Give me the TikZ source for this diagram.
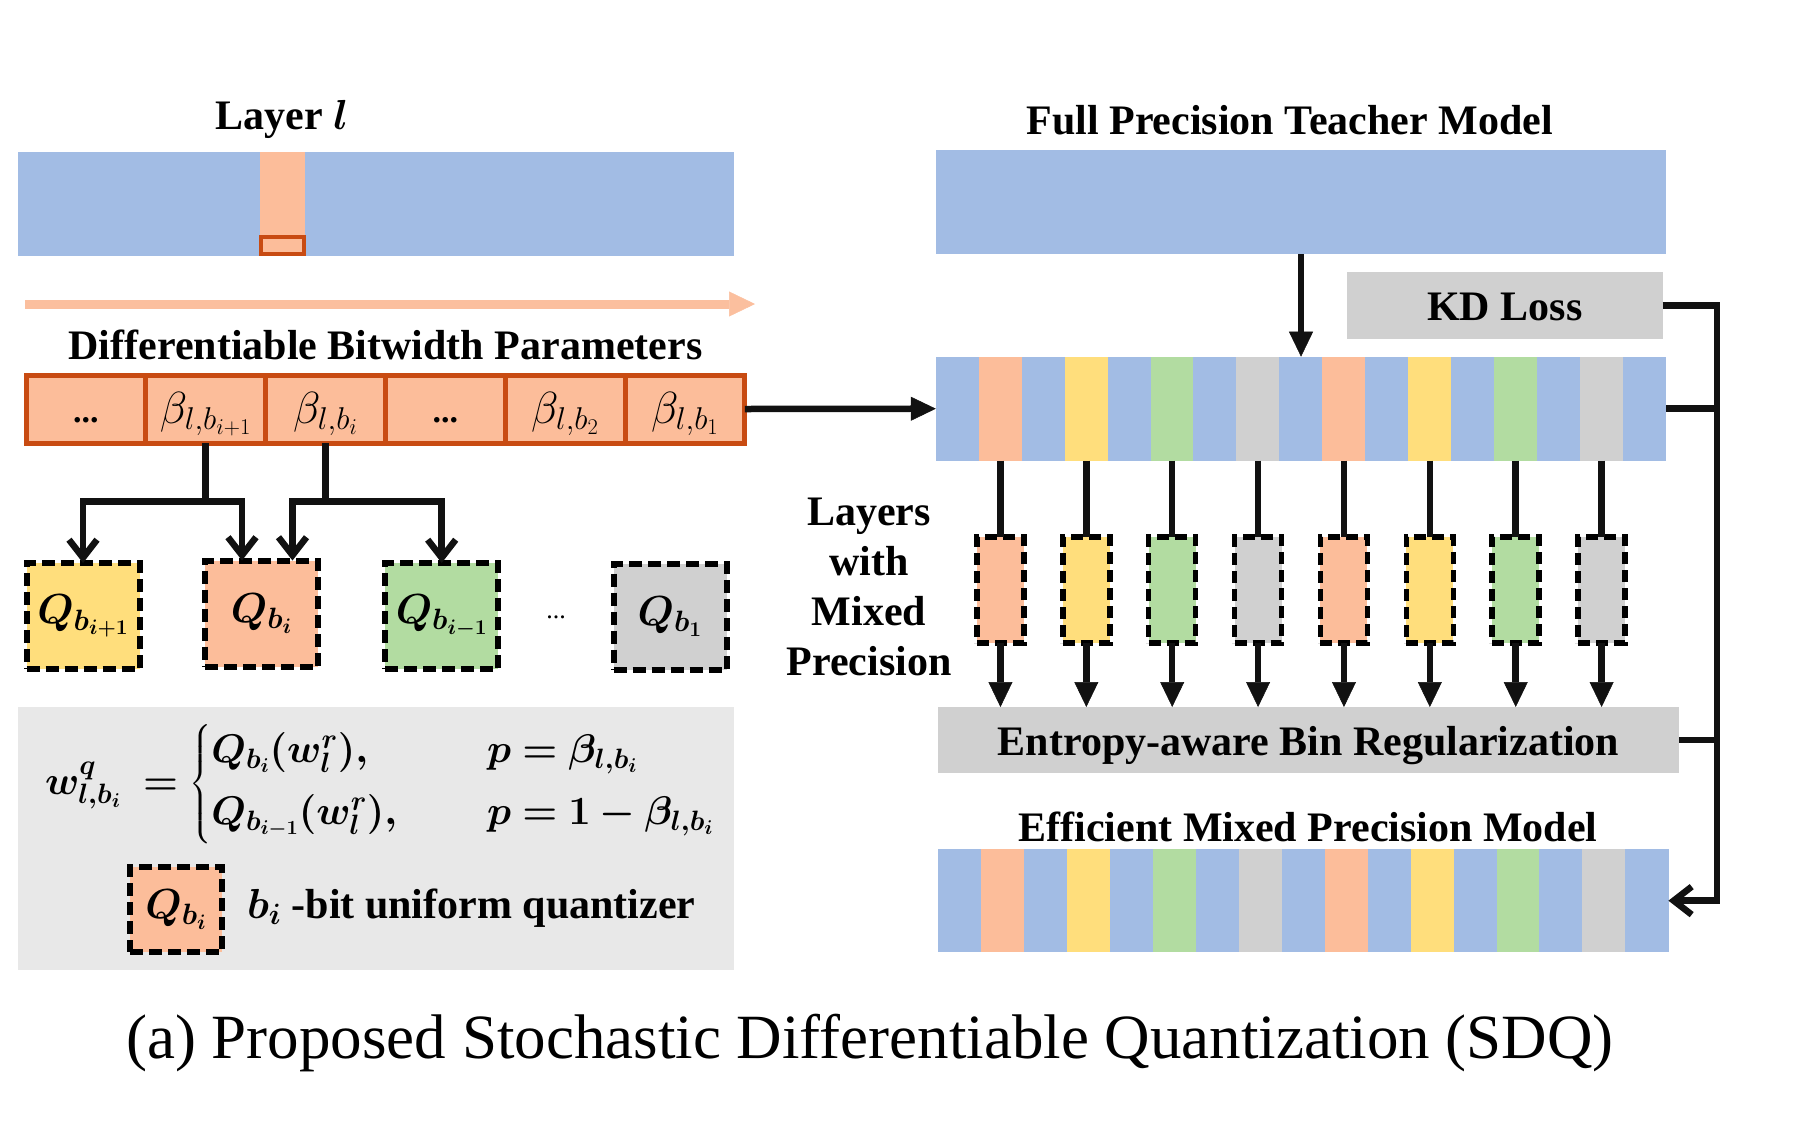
\RequirePackage{fix-cm}
\documentclass[tikz,border=0pt]{standalone}
\usepackage{amsmath}
\usepackage{bm}
\usepackage{fontspec}
\setmainfont{Liberation Serif}
\usetikzlibrary{arrows.meta}
\definecolor{cblue}{HTML}{A2BCE4}
\definecolor{corange}{HTML}{FCBD9A}
\definecolor{cyellow}{HTML}{FFDE7C}
\definecolor{cgreen}{HTML}{B2DCA1}
\definecolor{cgray}{HTML}{D0D0D0}
\definecolor{cbg}{HTML}{E8E8E8}
\definecolor{cborder}{HTML}{C84B12}
\definecolor{carrow}{HTML}{FBBF9E}
\definecolor{cline}{HTML}{111111}
\begin{document}
\begin{tikzpicture}[x=1pt,y=-1pt,
  every node/.style={inner sep=0pt,outer sep=0pt},
  lbl/.style={font=\fontsize{42}{50}\selectfont\bfseries},
  blk/.style={draw=cline,line width=6.5pt},
  barb/.style={-{Straight Barb[length=18pt,width=28pt]}},
  tri/.style={-{Triangle[length=25pt,width=24pt,line width=0.5pt]}},
  band/.style={rectangle,anchor=north west,minimum width=43.4pt,minimum height=#1},
  pcell/.style={rectangle,draw=cborder,fill=corange,line width=5pt,minimum width=119.8pt,minimum height=68pt},
  qbox/.style={rectangle,draw=black,line width=6pt,dash pattern=on 13pt off 6pt,minimum width=113pt,minimum height=106pt,font=\fontsize{42}{50}\selectfont},
  dbox/.style={rectangle,draw=black,line width=5.5pt,dash pattern=on 12pt off 6pt,minimum width=47pt,minimum height=106pt,anchor=north},
  gbox/.style={rectangle,fill=cgray,anchor=north west},
  beta/.style={font=\fontsize{45}{52}\selectfont}
]
\useasboundingbox (0,0) rectangle (1798,1136);

% left: layer l
\node[lbl] (tl) at (282,119) {Layer $\bm{l}$};
\node[rectangle,fill=cblue,anchor=north west,minimum width=716pt,minimum height=103.7pt] (layer) at (18,152) {};
\node[rectangle,fill=corange,anchor=north west,minimum width=45pt,minimum height=103.7pt] (lstripe) at (260,152) {};
\node[rectangle,draw=cborder,line width=4pt,fill=corange,anchor=south,minimum width=43pt,minimum height=17pt] (lsel) at ([yshift=2pt]lstripe.south) {};

\coordinate (oa1) at (25,304);
\coordinate (oa2) at (755,304);
\draw[line width=9pt,draw=carrow,-{Triangle[length=26pt,width=25pt,line width=0.5pt,fill=carrow]}] (oa1) -- (oa2);

\node[lbl] (tdbp) at (385.5,345) {Differentiable Bitwidth Parameters};

% parameter cells
\node[pcell] (p1) at (85.9,409) {};
\node[pcell] (p2) at (205.7,409) {};
\node[pcell] (p3) at (325.5,409) {};
\node[pcell] (p4) at (445.3,409) {};
\node[pcell] (p5) at (565.1,409) {};
\node[pcell] (p6) at (684.9,409) {};
\node[font=\fontsize{34}{40}\selectfont\bfseries] (p1t) at (85.9,420) {...};
\node[beta] (p2t) at (205.7,414) {$\beta_{l,b_{i+1}}$};
\node[beta] (p3t) at (325.5,414) {$\beta_{l,b_{i}}$};
\node[font=\fontsize{34}{40}\selectfont\bfseries] (p4t) at (445.3,420) {...};
\node[beta] (p5t) at (565.1,414) {$\beta_{l,b_{2}}$};
\node[beta] (p6t) at (684.9,414) {$\beta_{l,b_{1}}$};

% quantizer boxes
\node[qbox,fill=cyellow] (qa) at (83,616) {$\bm{Q_{b_{i+1}}}$};
\node[qbox,fill=corange] (qb) at (261.5,613.5) {$\bm{Q_{b_{i}}}$};
\node[qbox,fill=cgreen] (qc) at (441.7,616) {$\bm{Q_{b_{i-1}}}$};
\node[font=\fontsize{26}{30}\selectfont] (qdots) at (556,617) {...};
\node[qbox,fill=cgray] (qd) at (670,616.5) {$\bm{Q_{b_{1}}}$};

% tree connectors
\coordinate (j1) at (205.7,501.7);
\coordinate (j2) at (325.5,501.7);
\draw[blk] (p2.south) -- (j1);
\draw[blk] (p3.south) -- (j2);
\draw[blk,barb] (j1) -| (qa.north);
\draw[blk,barb] (j1) -| ([xshift=-19.5pt]qb.north);
\draw[blk,barb] (j2) -| ([xshift=31pt]qb.north);
\draw[blk,barb] (j2) -| (qc.north);

% formula box
\node[rectangle,fill=cbg,anchor=north west,minimum width=716pt,minimum height=263pt] (fbox) at (18,707) {};
\node[font=\fontsize{40}{48}\selectfont,anchor=west] (form) at (45,784)
 {$\bm{w^{q}_{l,b_i}}\;\bm{=}\left\{\begin{array}{@{}l@{\hspace{90pt}}l@{}}
 \bm{Q_{b_i}(w^{r}_{l}),} & \bm{p=\beta_{l,b_i}}\\[14pt]
 \bm{Q_{b_{i-1}}(w^{r}_{l}),} & \bm{p=1-\beta_{l,b_i}}
 \end{array}\right.$};
\node[qbox,fill=corange,minimum width=92pt,minimum height=85pt] (qleg) at (176,909.5) {$\bm{Q_{b_i}}$};
\node[lbl,anchor=west] (legt) at (247,908) {$\bm{b_i}$ -bit uniform quantizer};

% right
\node[lbl] (tfp) at (1289.6,120) {Full Precision Teacher Model};
\node[rectangle,fill=cblue,anchor=north west,minimum width=730.6pt,minimum height=103.7pt] (teach) at (935.8,150.3) {};
\node[gbox,minimum width=315.6pt,minimum height=66.7pt] (kd) at (1347,272) {};
\node[lbl] (kdt) at ([yshift=-2pt]kd.center) {KD Loss};

% student (mixed) bar
\node[rectangle,anchor=north west,minimum width=730.6pt,minimum height=104pt] (stud) at (935.8,356.7) {};
\foreach \c [count=\i] in {cblue,corange,cblue,cyellow,cblue,cgreen,cblue,cgray,cblue,corange,cblue,cyellow,cblue,cgreen,cblue,cgray,cblue}
  \node[band=104pt,fill=\c] (s\i) at ({935.8+(\i-1)*42.94},356.7) {};

\draw[blk,tri] (teach.south -| s9) -- (s9.north);
\draw[blk,tri] (p6.east) -- (stud.west);

\node[lbl,align=center] (lwm) at (869,586.7) {Layers\\with\\Mixed\\Precision};

\node[gbox,minimum width=741pt,minimum height=66pt] (ent) at (938,707) {};
\node[lbl] (entt) at ([yshift=-6pt]ent.center) {Entropy-aware Bin Regularization};

\coordinate (dtop) at (0,537);
\foreach \c [count=\k] in {corange,cyellow,cgreen,cgray,corange,cyellow,cgreen,cgray}{
  \pgfmathtruncatemacro{\j}{2*\k}
  \node[dbox,fill=\c] (d\k) at (s\j.south |- dtop) {};
  \draw[blk] (s\j.south) -- (d\k.north);
  \draw[blk,tri] (d\k.south) -- (d\k.south |- ent.north);
}

\node[lbl] (teff) at (1308,826.7) {Efficient Mixed Precision Model};
\node[rectangle,anchor=north west,minimum width=730.4pt,minimum height=103.3pt] (eff) at (938,849) {};
\foreach \c [count=\i] in {cblue,corange,cblue,cyellow,cblue,cgreen,cblue,cgray,cblue,corange,cblue,cyellow,cblue,cgreen,cblue,cgray,cblue}
  \node[band=103.3pt,fill=\c] (e\i) at ({938+(\i-1)*42.96},849) {};

% right feedback line
\coordinate (rx) at (1717,0);
\draw[blk,barb] (kd.east) -| (rx |- eff.east) -- (eff.east);
\draw[blk] (stud.east) -- (stud.east -| rx);
\draw[blk] (ent.east) -- (ent.east -| rx);

% caption
\node[font=\fontsize{63}{70}\selectfont] (cap) at (870,1043) {(a) Proposed Stochastic Differentiable Quantization (SDQ)};
\end{tikzpicture}
\end{document}
